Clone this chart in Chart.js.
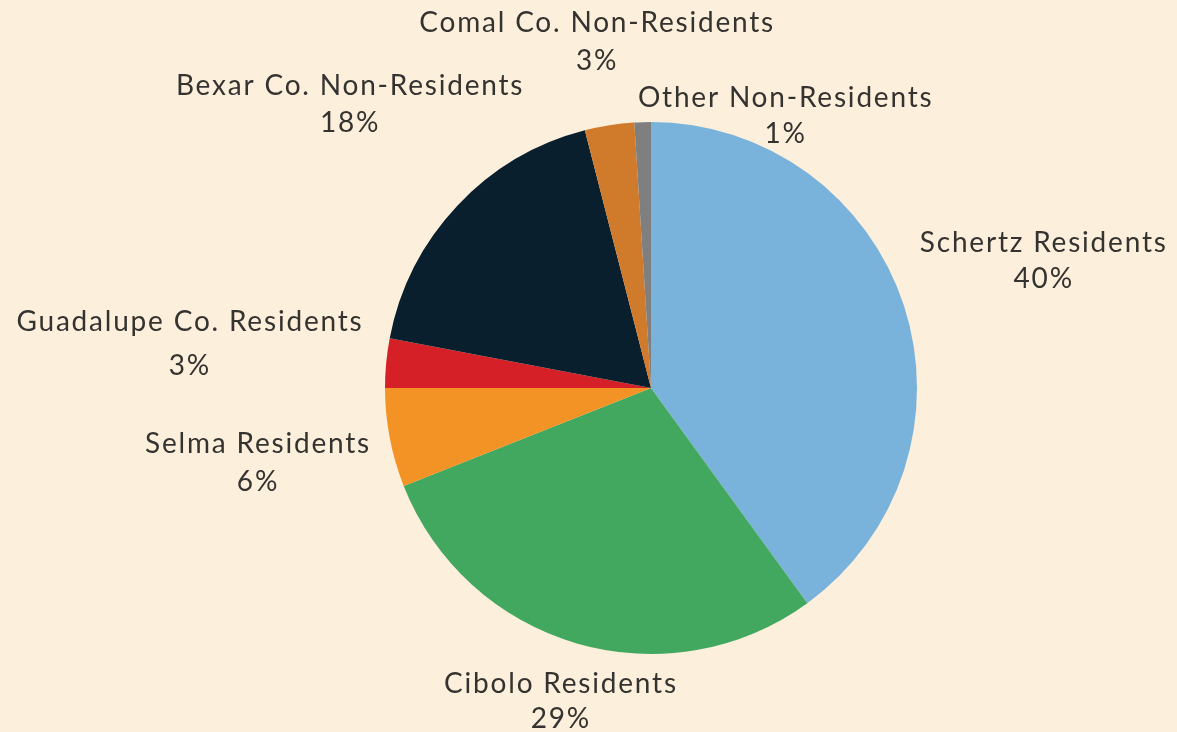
<!DOCTYPE html>
<html>
<head>
<meta charset="utf-8">
<script src="https://cdn.jsdelivr.net/npm/chart.js@4.4.1/dist/chart.umd.min.js"></script>
<style>
  html, body { margin: 0; padding: 0; background: #fcefdc; }
  #wrap { width: 1177px; height: 732px; position: relative; }
</style>
</head>
<body>
<div id="wrap"><canvas id="c" width="1177" height="732"></canvas></div>
<script>
// ---- data ----
const categories = ["Schertz Residents", "Cibolo Residents", "Selma Residents", "Guadalupe Co. Residents", "Bexar Co. Non-Residents", "Comal Co. Non-Residents", "Other Non-Residents"];
const shares = [40, 29, 6, 3, 18, 3, 1];
const colors = ["#79b2da", "#42a85f", "#f39325", "#d62027", "#0a1f2e", "#d07b2c", "#7f7f7f"];

// ---- label layout (distance from pie centre, angular shift in degrees, line gap) ----
const labelDist = [412, 326, 401, 464, 414, 350, 303];
const labelShift = [0, 0, 0, 0, 0, 0, 28];
const labelGap = [36, 35, 38, 44, 37, 38, 36];

const labelPlugin = {
  id: 'outLabels',
  afterDatasetsDraw(chart) {
    const ctx = chart.ctx;
    const meta = chart.getDatasetMeta(0);
    ctx.save();
    ctx.fillStyle = '#353330';
    ctx.font = '400 28px Lato, "Open Sans", sans-serif';
    const ls = 1.8;
    if ('letterSpacing' in ctx) ctx.letterSpacing = ls + 'px';
    ctx.textAlign = 'center';
    ctx.textBaseline = 'middle';
    meta.data.forEach((arc, i) => {
      const mid = (arc.startAngle + arc.endAngle) / 2 + labelShift[i] * Math.PI / 180;
      const cx = arc.x + Math.cos(mid) * labelDist[i] + ls / 2;
      const cy = arc.y + Math.sin(mid) * labelDist[i];
      const g = labelGap[i] / 2;
      ctx.fillText(categories[i], cx, cy - g);
      ctx.fillText(shares[i] + '%', cx, cy + g);
    });
    ctx.restore();
  }
};

new Chart(document.getElementById('c'), {
  type: 'pie',
  data: {
    labels: categories,
    datasets: [{
      data: shares,
      backgroundColor: colors,
      borderWidth: 0
    }]
  },
  options: {
    responsive: false,
    animation: false,
    layout: { padding: { left: 385, right: 260, top: 122, bottom: 78 } },
    plugins: { legend: { display: false }, tooltip: { enabled: false } }
  },
  plugins: [labelPlugin]
});
</script>
</body>
</html>
